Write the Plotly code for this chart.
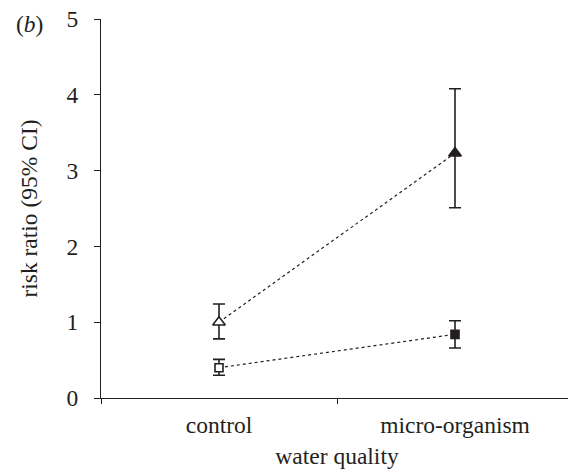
import plotly.graph_objects as go

categories = ["control", "micro-organism"]
cat_pos = [0.5, 1.5]

tri_vals = [1.00, 3.23]
tri_hi = [1.24, 4.08]
tri_lo = [0.78, 2.51]

sq_vals = [0.40, 0.84]
sq_hi = [0.51, 1.02]
sq_lo = [0.30, 0.66]

fnt = "Liberation Serif, Times New Roman, serif"
ink = "#231f20"
FS = 23.5

fig = go.Figure()

def add_series(vals, hi, lo, symbol, size):
    fig.add_trace(go.Scatter(
        x=cat_pos, y=vals, mode="lines+markers",
        line=dict(color=ink, width=1.2, dash="dot"),
        marker=dict(symbol=symbol, size=size, color=["white", ink],
                    line=dict(color=ink, width=1.6)),
        error_y=dict(type="data", symmetric=False,
                     array=[h - v for h, v in zip(hi, vals)],
                     arrayminus=[v - l for v, l in zip(vals, lo)],
                     color=ink, thickness=1.6, width=6),
        showlegend=False, cliponaxis=False,
    ))

add_series(tri_vals, tri_hi, tri_lo, "triangle-up", 11)
add_series(sq_vals, sq_hi, sq_lo, "square", 8)

fig.update_layout(
    width=568, height=465,
    margin=dict(l=93, r=3, t=11, b=75, autoexpand=False),
    plot_bgcolor="white", paper_bgcolor="white",
    font=dict(family=fnt, size=FS, color=ink),
    xaxis=dict(range=[0, 2], tickvals=cat_pos, ticktext=categories,
               ticks="", showgrid=False, zeroline=False, automargin=False,
               tickfont=dict(family=fnt, size=FS, color=ink),
               showline=True, linecolor=ink, linewidth=1.2,
               minor=dict(tickvals=[0, 1, 2], ticks="outside", ticklen=5,
                          tickcolor=ink, tickwidth=1.2, showgrid=False),
               title=dict(text="water quality", standoff=10,
                          font=dict(family=fnt, size=FS, color=ink)),
               ticklabelstandoff=6),
    yaxis=dict(range=[0, 5], tickvals=[0, 1, 2, 3, 4, 5],
               ticks="outside", ticklen=6, tickcolor=ink, tickwidth=1.2,
               showgrid=False, zeroline=False, automargin=False,
               tickfont=dict(family=fnt, size=FS, color=ink),
               ticklabeloverflow="allow",
               showline=True, linecolor=ink, linewidth=1.2,
               title=dict(text="risk ratio (95% CI)", standoff=22,
                          font=dict(family=fnt, size=FS, color=ink)),
               ticklabelstandoff=11),
)

fig.add_annotation(text="(<i>b</i>)", xref="paper", yref="paper",
                   x=(21 - 93) / 472, y=1 - 5 / 379, xanchor="center", yanchor="middle",
                   showarrow=False, font=dict(family=fnt, size=FS, color=ink))

fig.write_html("out.html")
